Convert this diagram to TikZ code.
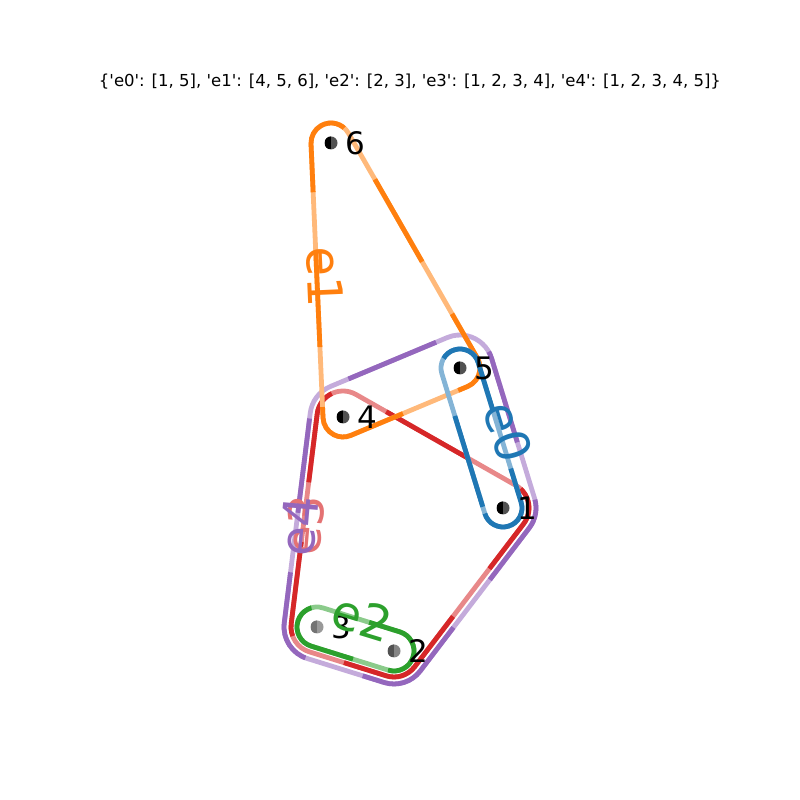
\documentclass[tikz,border=0pt]{standalone}
\usepackage{fontspec}
\setmainfont{DejaVu Sans}
\newfontfamily\plainfont{DejaVu Sans}
\usetikzlibrary{calc}
\definecolor{cB}{HTML}{1F77B4}
\definecolor{cO}{HTML}{FF7F0E}
\definecolor{cG}{HTML}{2CA02C}
\definecolor{cR}{HTML}{D62728}
\definecolor{cP}{HTML}{9467BD}
\tikzset{
  hull/.style={line width=4.8pt, line join=round, draw=#1!55!white,
     postaction={draw=#1, dash pattern=on 95pt off 60pt}},
  vtx/.style 2 args={circle, inner sep=0pt, minimum size=13pt, fill=#2,
     path picture={\fill[#1] (path picture bounding box.south) rectangle (path picture bounding box.north west);}},
  nlab/.style={anchor=west, inner sep=0pt, font=\fontsize{31}{36}\selectfont},
  elab/.style={inner sep=0pt, font=\fontsize{48}{56}\selectfont},
}
\begin{document}
\begin{tikzpicture}[x=1pt,y=1pt]
\useasboundingbox (0,0) rectangle (800,800);
\coordinate (p1) at (503,292);
\coordinate (p2) at (394,149);
\coordinate (p3) at (317,173);
\coordinate (p4) at (343,383);
\coordinate (p5) at (460,432);
\coordinate (p6) at (331,657);

% title
\node[inner sep=0pt, font=\plainfont\fontsize{16.5}{20}\selectfont] (title) at (410,718)
  {\{'e0': [1, 5], 'e1': [4, 5, 6], 'e2': [2, 3], 'e3': [1, 2, 3, 4], 'e4': [1, 2, 3, 4, 5]\}};

% e4
\draw[hull=cP] ($(p2)+(-107.31:33)$) arc[start angle=-107.31,end angle=-37.32,radius=33]
  -- ($(p1)+(-37.32:33)$) arc[start angle=-37.32,end angle=17.07,radius=33]
  -- ($(p5)+(17.07:33)$) arc[start angle=17.07,end angle=112.72,radius=33]
  -- ($(p4)+(112.72:33)$) arc[start angle=112.72,end angle=172.94,radius=33]
  -- ($(p3)+(172.94:33)$) arc[start angle=172.94,end angle=252.69,radius=33] -- cycle;
% e3
\draw[hull=cR, postaction={dash phase=40pt}] ($(p2)+(-107.31:26)$) arc[start angle=-107.31,end angle=-37.32,radius=26]
  -- ($(p1)+(-37.32:26)$) arc[start angle=-37.32,end angle=60.37,radius=26]
  -- ($(p4)+(60.37:26)$) arc[start angle=60.37,end angle=172.94,radius=26]
  -- ($(p3)+(172.94:26)$) arc[start angle=172.94,end angle=252.69,radius=26] -- cycle;
% e2
\draw[hull=cG] ($(p2)+(-107.31:20)$) arc[start angle=-107.31,end angle=72.69,radius=20]
  -- ($(p3)+(72.69:20)$) arc[start angle=72.69,end angle=252.69,radius=20] -- cycle;
% e1
\draw[hull=cO] ($(p4)+(182.51:20)$) arc[start angle=182.51,end angle=292.72,radius=20]
  -- ($(p5)+(-67.28:20)$) arc[start angle=-67.28,end angle=29.83,radius=20]
  -- ($(p6)+(29.83:20)$) arc[start angle=29.83,end angle=182.51,radius=20] -- cycle;
% e0
\draw[hull=cB] ($(p1)+(-162.93:19)$) arc[start angle=-162.93,end angle=17.07,radius=19]
  -- ($(p5)+(17.07:19)$) arc[start angle=17.07,end angle=197.07,radius=19] -- cycle;

% vertices
\node[vtx={black}{black!68}] (v1) at (p1) {};
\node[vtx={black!68}{black!48}] (v2) at (p2) {};
\node[vtx={black!55}{black!40}] (v3) at (p3) {};
\node[vtx={black}{black!68}] (v4) at (p4) {};
\node[vtx={black}{black!68}] (v5) at (p5) {};
\node[vtx={black}{black!68}] (v6) at (p6) {};

% vertex labels
\node[nlab] (l1) at ($(p1)+(14,0)$) {1};
\node[nlab] (l2) at ($(p2)+(14,0)$) {2};
\node[nlab] (l3) at ($(p3)+(14,0)$) {3};
\node[nlab] (l4) at ($(p4)+(14,0)$) {4};
\node[nlab] (l5) at ($(p5)+(14,0)$) {5};
\node[nlab] (l6) at ($(p6)+(14,0)$) {6};

% edge labels
\node[elab, text=cB, rotate=-73] (le0) at (508,368) {e0};
\node[elab, text=cO, rotate=-87.5] (le1) at (325,523) {e1};
\node[elab, text=cG, rotate=-17] (le2) at (362,182) {e2};
\node[elab, text=cR!65!white, rotate=85] (le3) at (305,275) {e3};
\node[elab, text=cP, rotate=85] (le4) at (299,274) {e4};
\end{tikzpicture}
\end{document}
